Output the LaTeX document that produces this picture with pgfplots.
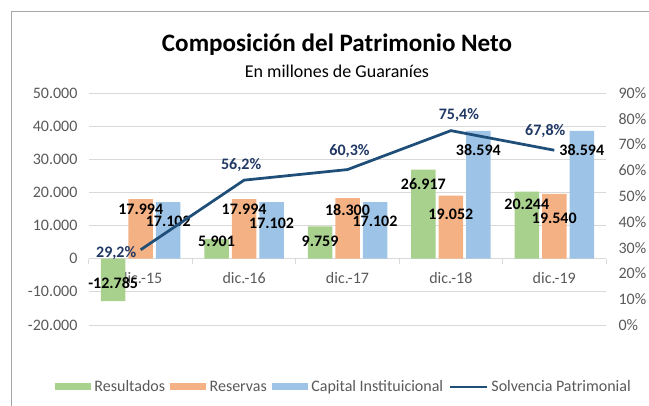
\documentclass[border=0pt]{standalone}
\usepackage{fontspec}
\setmainfont{Carlito}
\usepackage{pgfplots}
\usepackage{pgfplotstable}
\pgfplotsset{compat=1.18}

\definecolor{resgreen}{HTML}{A9D18E}
\definecolor{resorange}{HTML}{F4B183}
\definecolor{capblue}{HTML}{9DC3E6}
\definecolor{solvnavy}{HTML}{1F4E79}
\definecolor{labnavy}{HTML}{203864}
\definecolor{txtgray}{HTML}{595959}
\definecolor{gridgray}{HTML}{D9D9D9}
\definecolor{framegray}{HTML}{A6A6A6}

% x = category, y = millones de Gs., dy = label offset (pt) from bar end
\pgfplotstableread{
x  y      dy
0  -12785  18
1  5901   -2.3
2  9759   -15
3  26917  -15
4  20244  -13
}\resultados
\pgfplotstableread{
x  y      dy
0  17994  -10.6
1  17994  -10.6
2  18300  -11.6
3  19052  -19
4  19540  -24
}\reservas
\pgfplotstableread{
x  y      dy
0  17102  -19.4
1  17102  -21
2  17102  -19.4
3  38594  -19
4  38594  -19
}\capital
% solvencia in %, label offsets in pt
\pgfplotstableread{
x  y     dx     dy
0  29.2  -24.5  -3.3
1  56.2  -3     15
2  60.3  2      19
3  75.4  8      15.6
4  67.8  -9     19
}\solvencia

\pgfplotsset{
  barleg/.style={legend image code/.code={\fill[##1, draw=none] (0pt,-3.5pt) rectangle (36pt,3.5pt);}},
  lineleg/.style={legend image code/.code={\draw[##1] (0pt,0pt) -- (37pt,0pt);}},
  barlabels/.style={
    nodes near coords={\pgfmathprintnumber[fixed,1000 sep={.},assume math mode=true]{\pgfplotspointmeta}},
    visualization depends on={\thisrow{dy}\as\labdy},
    every node near coord/.append style={anchor=center, yshift=\labdy,
      font=\fontsize{16}{19}\selectfont\bfseries, text=black, inner sep=0pt}},
}

\begin{document}
\begin{tikzpicture}
\useasboundingbox (0,0) rectangle (649pt,-405pt);
\clip (0,0) rectangle (649pt,-405pt);
\draw[framegray, line width=1.5pt] (11.5pt,-11.5pt) rectangle (700pt,-500pt);

\node at (337pt,-45pt) {\fontsize{25.1}{30}\selectfont\bfseries Composición del Patrimonio Neto};
\node at (337pt,-71pt) {\fontsize{18}{22}\selectfont En millones de Guaraníes};

\begin{axis}[
  at={(89pt,-325pt)}, anchor=south west,
  scale only axis, width=517pt, height=232pt,
  ybar=3pt, bar width=24.5pt,
  xmin=-0.5, xmax=4.5,
  ymin=-20000, ymax=50000,
  ytick={-20000,-10000,...,50000},
  xtick={0,...,4},
  xticklabels={dic.-15,dic.-16,dic.-17,dic.-18,dic.-19},
  minor xtick={-0.5,0.5,...,4.5},
  axis x line*=middle,
  axis y line*=left,
  x axis line style={gridgray, line width=1pt},
  y axis line style={draw=none},
  major tick length=0pt,
  minor tick length=5pt,
  tick align=outside,
  minor tick style={gridgray, line width=1pt},
  ymajorgrids, grid style={gridgray, line width=1pt},
  scaled y ticks=false,
  tick label style={font=\fontsize{16}{19}\selectfont, text=txtgray},
  /pgf/number format/1000 sep={.},
  /pgf/number format/assume math mode=true,
  yticklabel style={anchor=east, xshift=-8pt},
  xticklabel style={anchor=north, yshift=-10pt},
  clip=false,
]
\addplot[fill=resgreen, draw=none, barlabels] table[x=x, y=y] {\resultados};
\addplot[fill=resorange, draw=none, barlabels] table[x=x, y=y] {\reservas};
\addplot[fill=capblue, draw=none, barlabels] table[x=x, y=y] {\capital};
\end{axis}

\begin{axis}[
  at={(89pt,-325pt)}, anchor=south west,
  scale only axis, width=517pt, height=232pt,
  xmin=-0.5, xmax=4.5,
  ymin=0, ymax=90,
  axis x line=none,
  axis y line*=right,
  y axis line style={draw=none},
  major tick length=0pt,
  ytick={0,10,...,90},
  yticklabel={\pgfmathprintnumber{\tick}\%},
  yticklabel style={anchor=west, xshift=9pt, font=\fontsize{16}{19}\selectfont, text=txtgray},
  /pgf/number format/assume math mode=true,
  clip=false,
  legend style={at={(0.493,-0.267)}, anchor=center, draw=none, fill=none,
    legend columns=4, font=\fontsize{16}{19}\selectfont, text=txtgray,
    /tikz/every odd column/.append style={column sep=1.5pt},
    /tikz/every even column/.append style={column sep=3pt}},
  legend cell align=left,
]
\addlegendimage{barleg, fill=resgreen}
\addlegendentry{Resultados}
\addlegendimage{barleg, fill=resorange}
\addlegendentry{Reservas}
\addlegendimage{barleg, fill=capblue}
\addlegendentry{Capital Instituicional}
\addplot[lineleg, solvnavy, line width=2.75pt,
  nodes near coords={\pgfmathprintnumber[fixed,fixed zerofill,precision=1,use comma]{\pgfplotspointmeta}\%},
  visualization depends on={\thisrow{dx}\as\labdx},
  visualization depends on={\thisrow{dy}\as\labdy},
  every node near coord/.append style={anchor=center, xshift=\labdx, yshift=\labdy,
    font=\fontsize{16}{19}\selectfont\bfseries, text=labnavy, inner sep=0pt}]
  table[x=x, y=y] {\solvencia};
\addlegendentry{Solvencia Patrimonial}
\end{axis}
\end{tikzpicture}
\end{document}
